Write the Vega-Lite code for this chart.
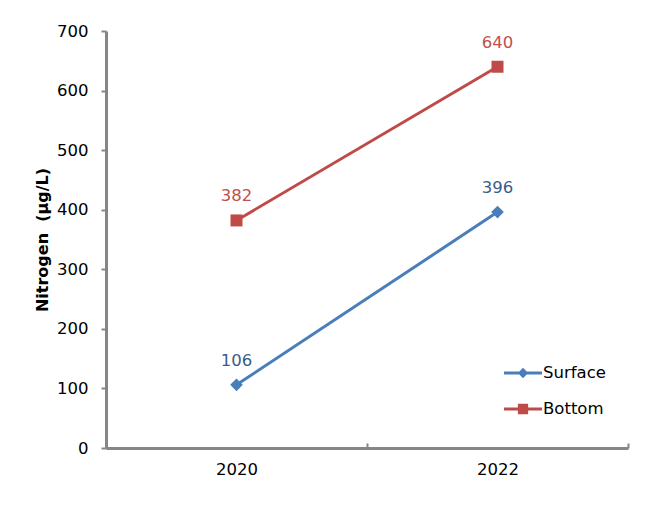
{
  "$schema": "https://vega.github.io/schema/vega-lite/v6.json",
  "width": 522,
  "height": 417,
  "autosize": {"type": "none"},
  "padding": {"left": 106, "top": 31, "right": 35, "bottom": 60},
  "background": "white",
  "config": {
    "view": {"stroke": null},
    "font": "DejaVu Sans",
    "axis": {
      "domainColor": "#868686",
      "domainWidth": 3,
      "tickColor": "#868686",
      "tickWidth": 2,
      "grid": false,
      "labelColor": "#000000",
      "labelFont": "DejaVu Sans",
      "labelFontSize": 16.5
    }
  },
  "data": {
    "values": [
      {"year": "2020", "series": "Surface", "value": 106},
      {"year": "2022", "series": "Surface", "value": 396},
      {"year": "2020", "series": "Bottom", "value": 382},
      {"year": "2022", "series": "Bottom", "value": 640}
    ]
  },
  "encoding": {
    "x": {
      "field": "year",
      "type": "ordinal",
      "scale": {"paddingInner": 0, "paddingOuter": 0},
      "axis": {
        "title": null,
        "labelAngle": 0,
        "tickBand": "extent",
        "tickSize": -5,
        "labelPadding": 18
      }
    },
    "y": {
      "field": "value",
      "type": "quantitative",
      "scale": {"domain": [0, 700], "nice": false},
      "axis": {
        "title": "Nitrogen\u00a0\u00a0(µg/L)",
        "titleFont": "DejaVu Sans",
        "titleFontSize": 16,
        "titleFontWeight": "bold",
        "titleColor": "#000000",
        "titlePadding": 6,
        "values": [0, 100, 200, 300, 400, 500, 600, 700],
        "tickSize": 5,
        "labelPadding": 13
      }
    },
    "color": {
      "field": "series",
      "type": "nominal",
      "scale": {"domain": ["Surface", "Bottom"], "range": ["#4a7ebb", "#be4b48"]},
      "legend": {
        "title": null,
        "orient": "none",
        "legendX": 398,
        "legendY": 323,
        "labelFont": "DejaVu Sans",
        "labelFontSize": 16.5,
        "labelColor": "#000000",
        "labelOffset": 1,
        "rowPadding": 8,
        "symbolType": "M-1,-0.08L1,-0.08L1,0.08L-1,0.08Z",
        "symbolSize": 1444,
        "symbolStrokeWidth": 0,
        "symbolOpacity": 1,
        "encode": {
          "symbols": {
            "update": {
              "shape": {
                "signal": "datum.value === 'Surface' ? 'M-1,-0.08L1,-0.08L1,0.08L-1,0.08Z M0,-0.27L0.27,0L0,0.27L-0.27,0Z' : 'M-1,-0.08L1,-0.08L1,0.08L-1,0.08Z M-0.27,-0.27L0.27,-0.27L0.27,0.27L-0.27,0.27Z'"
              },
              "size": {"value": 1444},
              "strokeWidth": {"value": 0}
            }
          }
        }
      }
    }
  },
  "layer": [
    {
      "mark": {"type": "line", "strokeWidth": 3}
    },
    {
      "mark": {"type": "point", "filled": true, "opacity": 1, "strokeWidth": 0},
      "encoding": {
        "shape": {
          "condition": {"test": "datum.series === 'Surface'", "value": "diamond"},
          "value": "square"
        },
        "size": {
          "condition": {"test": "datum.series === 'Surface'", "value": 160},
          "value": 144
        }
      }
    },
    {
      "mark": {"type": "text", "dy": -24, "fontSize": 16.5, "font": "DejaVu Sans", "baseline": "middle"},
      "encoding": {
        "text": {"field": "value", "type": "quantitative"},
        "color": {
          "condition": {"test": "datum.series === 'Surface'", "value": "#385d8a"},
          "value": "#c0504d"
        }
      }
    }
  ]
}
